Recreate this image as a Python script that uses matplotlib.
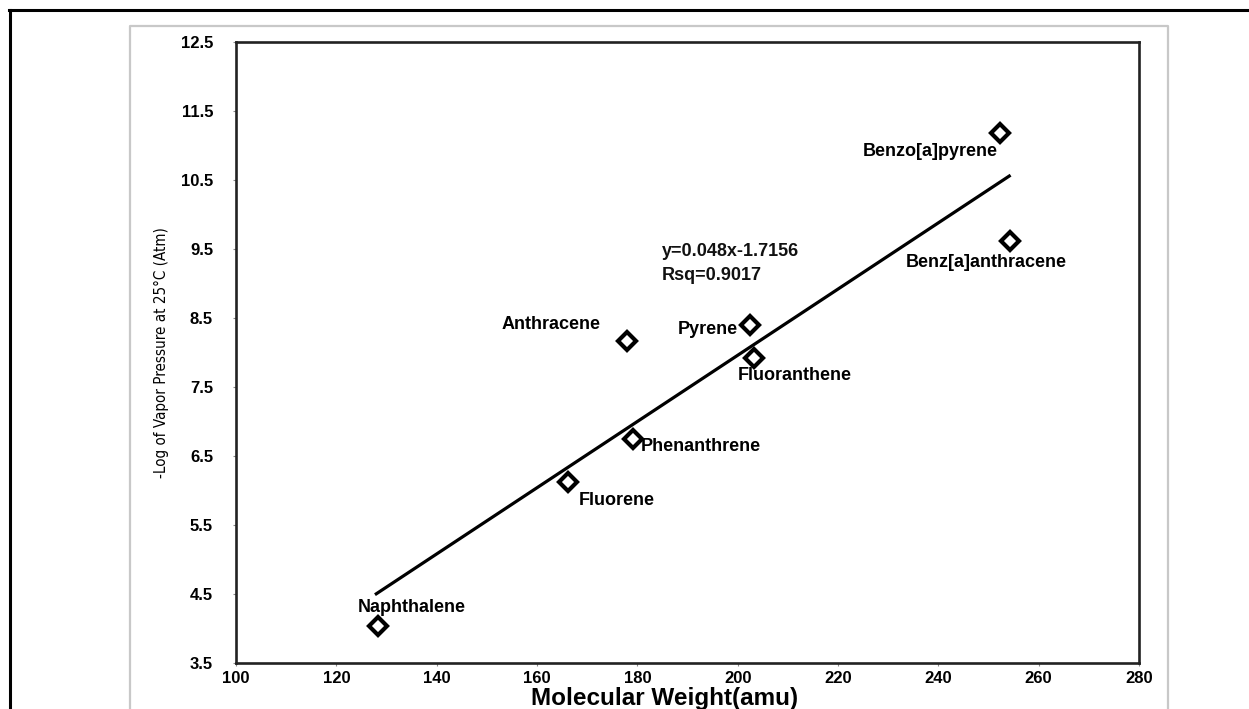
import matplotlib
matplotlib.use("Agg")
import matplotlib.pyplot as plt
from matplotlib.lines import Line2D
from matplotlib import font_manager

# ---- data ----
compounds = ["Naphthalene", "Fluorene", "Phenanthrene", "Anthracene",
             "Pyrene", "Fluoranthene", "Benzo[a]pyrene", "Benz[a]anthracene"]
mol_weight = [128.4, 166.2, 179.1, 177.9, 202.5, 203.3, 252.2, 254.3]
neg_log_vp = [4.04, 6.12, 6.74, 8.16, 8.40, 7.92, 11.18, 9.61]

fit_x = [127.7, 254.4]
fit_y = [4.49, 10.57]
equation_text = "y=0.048x-1.7156"
rsq_text = "Rsq=0.9017"

x_ticks = [100, 120, 140, 160, 180, 200, 220, 240, 260, 280]
y_ticks = [3.5, 4.5, 5.5, 6.5, 7.5, 8.5, 9.5, 10.5, 11.5, 12.5]

# label anchor positions (data coords) and alignments
label_pos = {
    "Naphthalene": (135.1, 4.30, "center"),
    "Fluorene": (168.4, 5.86, "left"),
    "Phenanthrene": (180.7, 6.64, "left"),
    "Anthracene": (172.6, 8.40, "right"),
    "Pyrene": (188.1, 8.34, "left"),
    "Fluoranthene": (200.1, 7.66, "left"),
    "Benzo[a]pyrene": (225.0, 10.91, "left"),
    "Benz[a]anthracene": (233.6, 9.30, "left"),
}

W, H = 1249, 709
fig = plt.figure(figsize=(W / 100, H / 100), dpi=100)
fig.patch.set_facecolor("white")

bold_font = ["Liberation Sans", "DejaVu Sans"]

# pick the most condensed regular upright face that is installed
rank = {"ultra-condensed": 0, "extra-condensed": 1, "condensed": 2,
        "semi-condensed": 3}
cands = []
for f in font_manager.fontManager.ttflist:
    st = f.stretch if isinstance(f.stretch, str) else "normal"
    if isinstance(f.stretch, (int, float)):
        st = {100: "ultra-condensed", 200: "extra-condensed", 300: "condensed",
              400: "semi-condensed"}.get(int(f.stretch), "normal")
    if "Narrow" in f.name:
        st = "condensed"
    w = f.weight if isinstance(f.weight, (int, float)) else 400
    if st in rank and f.style == "normal" and 400 <= w <= 500:
        cands.append((rank[st], abs(w - 450), f))
if cands:
    cands.sort(key=lambda t: (t[0], t[1]))
    narrow_prop = font_manager.FontProperties(fname=cands[0][2].fname)
else:
    narrow_prop = font_manager.FontProperties(family="Liberation Sans")

def fx(px):
    return px / W

def fy(py):
    return 1 - py / H

# outer black border (top + left visible) and gray inner frame
fig.add_artist(Line2D([fx(9), fx(W)], [fy(10), fy(10)], color="black", lw=2.2,
                      transform=fig.transFigure))
fig.add_artist(Line2D([fx(10), fx(10)], [fy(10), fy(H)], color="black", lw=2.2,
                      transform=fig.transFigure))
fig.add_artist(Line2D([fx(130), fx(130), fx(1168), fx(1168)],
                      [fy(H), fy(26), fy(26), fy(H)], color="#c8c8c8", lw=1.6,
                      transform=fig.transFigure))

ax_left, ax_right, ax_top, ax_bottom = 236, 1139, 42, 663
ax = fig.add_axes([fx(ax_left), fy(ax_bottom), (ax_right - ax_left) / W,
                   (ax_bottom - ax_top) / H])
ax.set_xlim(100, 280)
ax.set_ylim(3.5, 12.5)
for s in ax.spines.values():
    s.set_linewidth(1.9)
    s.set_color("#222222")

ax.set_xticks(x_ticks)
ax.set_yticks(y_ticks)
ax.set_xticklabels([str(v) for v in x_ticks], fontfamily=bold_font,
                   fontweight="bold", fontsize=12)
ax.set_yticklabels([f"{v:.1f}" for v in y_ticks], fontfamily=bold_font,
                   fontweight="bold", fontsize=12)
ax.tick_params(axis="both", length=2.5, width=0.8, color="#888888")
ax.tick_params(axis="y", pad=14)
ax.tick_params(axis="x", pad=3)

# regression line
ax.plot(fit_x, fit_y, color="black", lw=2.3, solid_capstyle="butt", zorder=2)

# data points
ax.plot(mol_weight, neg_log_vp, linestyle="none", marker="D", markersize=9.5,
        markerfacecolor="white", markeredgecolor="black", markeredgewidth=3.0,
        zorder=3)

for name in compounds:
    x, y, ha = label_pos[name]
    ax.text(x, y, name, ha=ha, va="center", fontsize=13, fontweight="bold",
            fontfamily=bold_font, color="black", zorder=4)

ax.text(184.9, 9.46, equation_text, ha="left", va="center", fontsize=13,
        fontweight="bold", fontfamily=bold_font, color="#111111")
ax.text(184.9, 9.12, rsq_text, ha="left", va="center", fontsize=13,
        fontweight="bold", fontfamily=bold_font, color="#111111")

fig.text(fx(665), fy(698), "Molecular Weight(amu)", ha="center", va="center",
         fontsize=17.5, fontweight="bold", fontfamily=bold_font)

ylab = fig.text(fx(161), fy(353), "-Log of Vapor Pressure at 25°C (Atm)",
                ha="center", va="center", rotation=90, fontproperties=narrow_prop,
                color="black")
ylab.set_fontsize(14)
# scale the y label so its length is close to the reference (~250 px)
renderer = fig.canvas.get_renderer()
length = ylab.get_window_extent(renderer).height
ylab.set_fontsize(min(16, 14 * 252 / length))

fig.savefig("out.png", dpi=100, facecolor="white")
